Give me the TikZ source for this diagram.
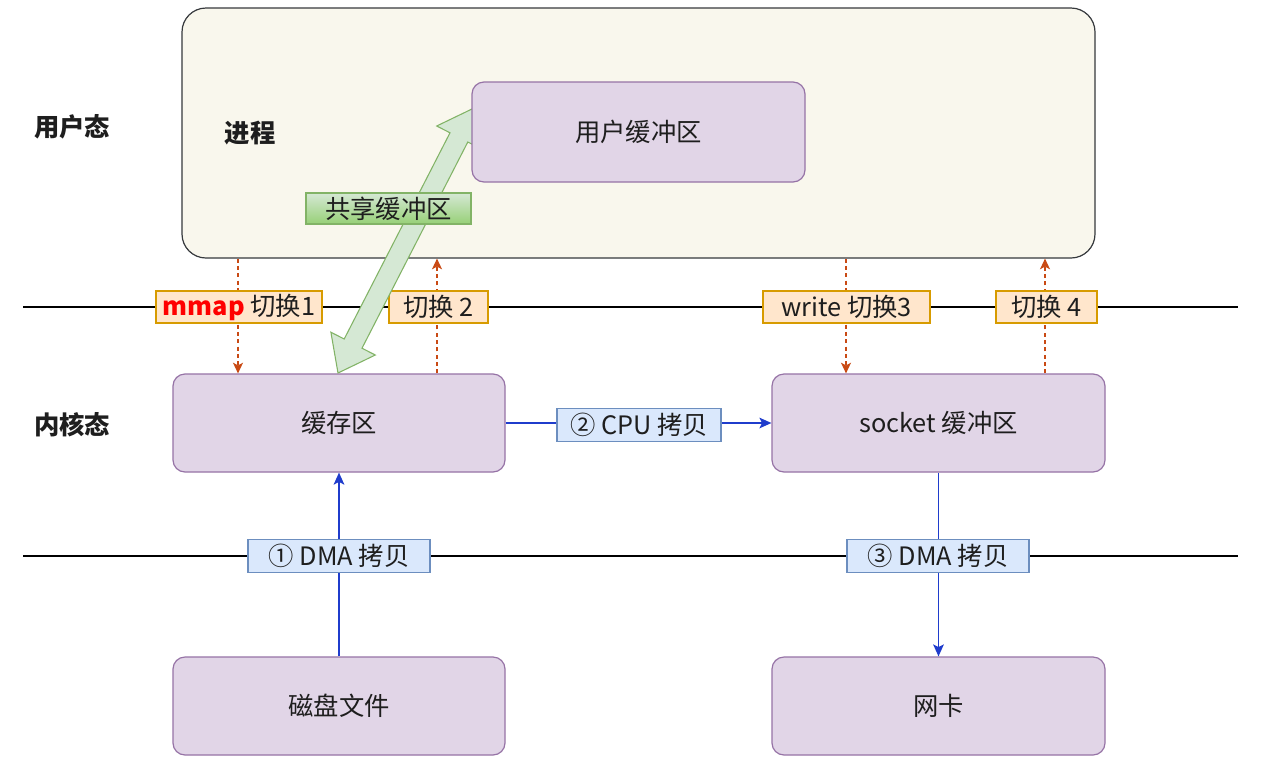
\documentclass[tikz,border=0pt]{standalone}
\usepackage{fontspec}
\setmainfont{Noto Sans CJK SC}
\usetikzlibrary{arrows.meta}
\definecolor{procfill}{HTML}{F9F7ED}
\definecolor{procline}{HTML}{36393D}
\definecolor{pfill}{HTML}{E1D5E7}
\definecolor{pline}{HTML}{9673A6}
\definecolor{ofill}{HTML}{FFE6CC}
\definecolor{oline}{HTML}{D79B00}
\definecolor{bfill}{HTML}{DAE8FC}
\definecolor{bline}{HTML}{6C8EBF}
\definecolor{gfill}{HTML}{D5E8D4}
\definecolor{gdark}{HTML}{97D077}
\definecolor{gline}{HTML}{82B366}
\definecolor{arrblue}{HTML}{1F3CCC}
\definecolor{arror}{HTML}{C94A14}
\definecolor{txt}{HTML}{1E1E1E}
\begin{document}
\begin{tikzpicture}[x=0.75pt,y=-0.75pt,
  every node/.style={font=\fontsize{19}{23}\selectfont, text=txt},
  procbox/.style={draw=procline, fill=procfill, line width=0.9pt, rounded corners=18pt, inner sep=0pt},
  pbox/.style={draw=pline, fill=pfill, line width=0.9pt, rounded corners=9pt, inner sep=0pt},
  olab/.style={draw=oline, fill=ofill, line width=0.8pt, inner sep=0pt, minimum height=24pt},
  blab/.style={draw=bline, fill=bfill, line width=0.8pt, inner sep=0pt, minimum height=24.75pt},
  glab/.style={draw=gline, top color=gfill, bottom color=gdark, line width=0.8pt, inner sep=0pt, minimum height=23.25pt, minimum width=123.75pt},
  hline/.style={draw=black, line width=0.8pt},
  sw/.style={draw=arror, line width=1pt, dash pattern=on 3pt off 2.5pt, -{Stealth[length=8pt,width=7.5pt,inset=2pt]}},
  bl/.style={draw=arrblue, line width=1.2pt, -{Stealth[length=9pt,width=8pt,inset=2pt]}},
  garrow/.style={draw=gline, fill=gfill, line width=0.8pt, line join=miter},
  side/.style={font=\fontsize{19}{23}\selectfont\bfseries}
]
\useasboundingbox (0,0) rectangle (1264,779);
\fill[white] (0,0) rectangle (1264,779);

% separator lines
\coordinate (l1a) at (23,307);
\coordinate (l1b) at (1238,307);
\coordinate (l2a) at (23,556);
\coordinate (l2b) at (1238,556);
\draw[hline] (l1a) -- (l1b);
\draw[hline] (l2a) -- (l2b);

% side labels
\node[side] (user) at (72,127) {用户态};
\node[side] (kern) at (72,425) {内核态};

% process box
\node[procbox, minimum width=684.75pt, minimum height=187.5pt] (proc) at (638.5,133) {};
\node[side] (jc) at (250,133) {进程};

% kernel and device boxes
\node[pbox, minimum width=249pt, minimum height=73.5pt] (cache) at (339,423) {缓存区};
\node[pbox, minimum width=249.75pt, minimum height=73.5pt] (sock) at (938.5,423) {socket 缓冲区};
\node[pbox, minimum width=249pt, minimum height=73.5pt] (disk) at (339,706) {磁盘文件};
\node[pbox, minimum width=249.75pt, minimum height=73.5pt] (nic) at (938.5,706) {网卡};

% switch coordinates
\coordinate (k1) at (238,307);
\coordinate (k2) at (437,307);
\coordinate (k3) at (846,307);
\coordinate (k4) at (1045,307);
\draw[sw] (proc.south -| k1) -- (cache.north -| k1);
\draw[sw] (cache.north -| k2) -- (proc.south -| k2);
\draw[sw] (proc.south -| k3) -- (sock.north -| k3);
\draw[sw] (sock.north -| k4) -- (proc.south -| k4);

\node[olab, minimum width=124.5pt] (lab1) at (239,307) {\textcolor{red}{\textbf{mmap}} 切换1};
\node[olab, minimum width=74.25pt] (lab2) at (438.5,307) {切换 2};
\node[olab, minimum width=125.25pt] (lab3) at (846.5,307) {write 切换3};
\node[olab, minimum width=75.75pt] (lab4) at (1046.5,307) {切换 4};

% blue copy arrows
\draw[bl] (disk.north) -- (cache.south);
\draw[bl] (cache.east) -- (sock.west);
\draw[bl] (sock.south) -- (nic.north);
\node[blab, minimum width=136.5pt] (dma1) at (339,556) {① DMA 拷贝};
\node[blab, minimum width=123pt] (cpu) at (639,425) {② CPU 拷贝};
\node[blab, minimum width=136.5pt] (dma3) at (938,556) {③ DMA 拷贝};

% shared buffer double block arrow
\draw[garrow] (338,373) -- (375.3,355.0) -- (362.0,348.2) -- (467.8,142.0) -- (481.1,148.8) -- (474,108) -- (436.7,126.0) -- (450.0,132.8) -- (344.2,339.0) -- (330.9,332.2) -- cycle;

% user buffer
\node[pbox, minimum width=249.75pt, minimum height=75pt] (ubuf) at (638.5,132) {用户缓冲区};

\node[glab] (share) at (388.5,208.5) {共享缓冲区};
\end{tikzpicture}
\end{document}
